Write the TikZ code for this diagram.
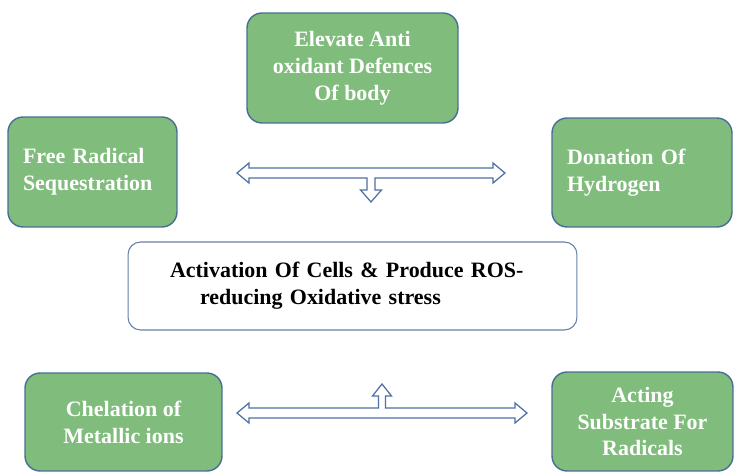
\documentclass[tikz,border=0pt]{standalone}
\usepackage{fontspec}
\setmainfont{Liberation Serif}
\definecolor{boxgreen}{RGB}{128,188,124}
\definecolor{boxedge}{RGB}{72,110,150}
\definecolor{arrowblue}{RGB}{78,112,165}
\definecolor{centreedge}{RGB}{100,128,168}
\begin{document}
\begin{tikzpicture}[x=0.02cm,y=-0.02cm,
    greenbox/.style={draw=boxedge,line width=0.8pt,fill=boxgreen,rounded corners=0.3cm,
      text=white,font=\bfseries\fontsize{12.5}{15.3}\selectfont,inner sep=0pt},
    centrebox/.style={draw=centreedge,line width=0.6pt,fill=white,rounded corners=0.25cm,
      font=\bfseries\fontsize{12.5}{15.3}\selectfont,inner sep=0pt},
    hollowarrow/.style={draw=arrowblue,line width=0.7pt,fill=white,line join=miter}]
    \useasboundingbox (0,0) rectangle (735,472);
    % boxes
    \node[greenbox,minimum width=4.22cm,minimum height=2.2cm,align=center] (elevate) at (352.5,68)
      {Elevate Anti\\oxidant Defences\\Of body};
    \node[greenbox,minimum width=3.38cm,minimum height=2.2cm,inner xsep=0.3cm,text width=2.78cm,align=left] (freerad) at (92.5,172)
      {Free Radical\\Sequestration};
    \node[greenbox,minimum width=3.6cm,minimum height=2.18cm,inner xsep=0.3cm,text width=3cm,align=left] (donation) at (642,172.5)
      {Donation Of\\Hydrogen};
    \node[centrebox,minimum width=8.98cm,minimum height=1.76cm,inner xsep=0.84cm,text width=7.3cm,align=left] (activation) at (352.5,286)
      {Activation Of Cells \& Produce ROS-\\\hspace*{0.6cm}reducing Oxidative stress};
    \node[greenbox,minimum width=3.94cm,minimum height=1.96cm,align=center] (chelation) at (123.5,422)
      {Chelation of\\Metallic ions};
    \node[greenbox,minimum width=3.62cm,minimum height=1.98cm,align=center] (acting) at (642.5,421.5)
      {Acting\\Substrate For\\Radicals};
    % upper arrow
    \coordinate (upL) at (237,173);
    \coordinate (upR) at (505,173);
    \draw[hollowarrow] (upL) --++(12,-10) --++(0,5) --++(244,0) --++(0,-5) -- (upR)
      --++(-12,10) --++(0,-5) --++(-118,0) --++(0,12) --++(6.5,0) --++(-10.5,12)
      --++(-10.5,-12) --++(6.5,0) --++(0,-12) --++(-118,0) --++(0,5) -- cycle;
    % lower arrow
    \coordinate (lowL) at (237,413);
    \coordinate (lowR) at (527,413);
    \draw[hollowarrow] (lowL) --++(12,-10) --++(0,5) --++(129.5,0) --++(0,-12) --++(-6,0)
      --++(9.5,-12) --++(9.5,12) --++(-6,0) --++(0,12) --++(129.5,0) --++(0,-5) -- (lowR)
      --++(-12,10) --++(0,-5) --++(-266,0) --++(0,5) -- cycle;
\end{tikzpicture}
\end{document}
